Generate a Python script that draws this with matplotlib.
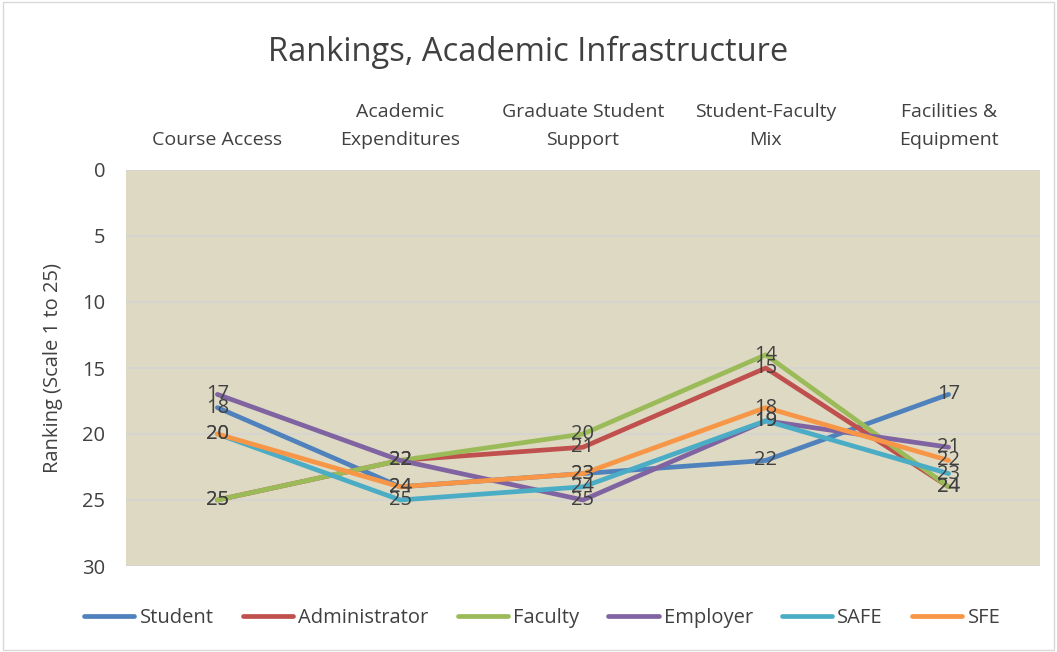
import matplotlib.pyplot as plt

categories = ['Course Access', 'Academic\nExpenditures', 'Graduate Student\nSupport',
              'Student-Faculty\nMix', 'Facilities &\nEquipment']
student = [18, 24, 23, 22, 17]
administrator = [25, 22, 21, 15, 24]
faculty = [25, 22, 20, 14, 24]
employer = [17, 22, 25, 19, 21]
safe = [20, 25, 24, 19, 23]
sfe = [20, 24, 23, 18, 22]

series = [('Student', student, '#4F81BD'),
          ('Administrator', administrator, '#C0504D'),
          ('Faculty', faculty, '#9BBB59'),
          ('Employer', employer, '#8064A2'),
          ('SAFE', safe, '#4BACC6'),
          ('SFE', sfe, '#F79646')]

plt.rcParams['font.family'] = ['Open Sans', 'DejaVu Sans']
text_col = '#404040'

fig = plt.figure(figsize=(10.57, 6.52), dpi=100)
ax = fig.add_axes([126 / 1057, 1 - 566 / 652, (1040 - 126) / 1057, (566 - 170) / 652])
ax.set_facecolor('#DDD9C3')

x = list(range(len(categories)))
for name, vals, col in series:
    ax.plot(x, vals, color=col, lw=3.4, label=name, solid_capstyle='round')
    for xi, v in zip(x, vals):
        ax.text(xi, v, str(v), ha='center', va='center', fontsize=14.5, color=text_col)

ax.set_xlim(-0.5, 4.5)
ax.set_ylim(30, 0)
ax.set_yticks(range(0, 31, 5))
ax.yaxis.grid(True, color='#D4D4D4', lw=1.2)
ax.set_axisbelow(True)
ax.xaxis.tick_top()
ax.set_xticks(x)
ax.set_xticklabels(categories, fontsize=14, color=text_col, linespacing=1.7)
ax.tick_params(axis='x', length=0, pad=15)
ax.tick_params(axis='y', length=0, labelsize=14.5, labelcolor=text_col, pad=15)
for s in ax.spines.values():
    s.set_visible(False)
ax.set_ylabel('Ranking (Scale 1 to 25)', fontsize=14.5, color=text_col, labelpad=14)

fig.suptitle('Rankings, Academic Infrastructure', fontsize=23.5, color=text_col,
             y=1 - 52 / 652, va='center')
fig.legend(loc='center', bbox_to_anchor=(0.513, 1 - 618 / 652), ncol=6, frameon=False,
           fontsize=14.5, labelcolor=text_col, handlelength=2.5, columnspacing=1.45,
           handletextpad=0.25)

fig.patches.append(plt.Rectangle((0.003, 0.003), 0.994, 0.994, transform=fig.transFigure,
                                 fill=False, edgecolor='#D9D9D9', lw=1))
fig.savefig('out.png', dpi=100)
